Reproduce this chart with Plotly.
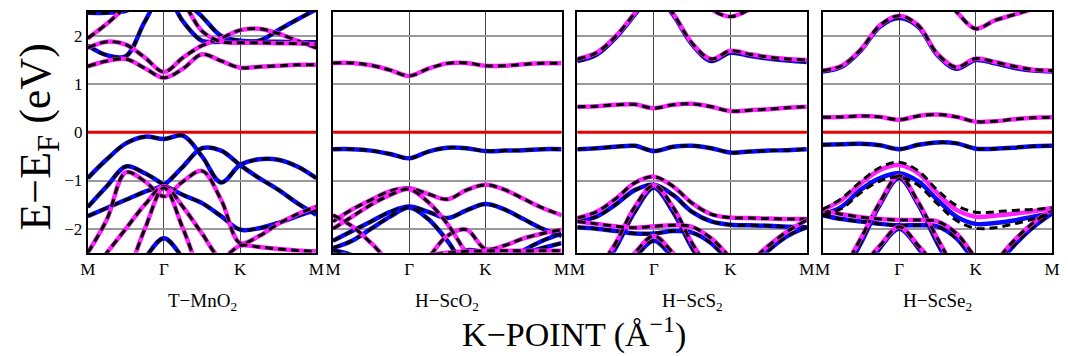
import plotly.graph_objects as go

# k-path grid (M, Γ, K, M at 0,1,2,3)
kpts = [0, 0.25, 0.5, 0.75, 1.0, 1.25, 1.5, 1.75, 2.0, 2.25, 2.5, 2.75, 3.0]
tick_vals = [0, 1, 2, 3]
tick_text = ["M", "Γ", "K", "M"]
ytick_vals = [2, 1, 0, -1, -2]
ytick_text = ["2", "1", "0", "−1", "−2"]
panel_names = ["T−MnO<sub>2</sub>", "H−ScO<sub>2</sub>", "H−ScS<sub>2</sub>", "H−ScSe<sub>2</sub>"]

# ---------- T-MnO2 ----------
mno2_up = [
    [-0.95, -0.56, -0.23, -0.09, -0.14, -0.07, -0.50, -1.04, -0.68, -0.56, -0.57, -0.71, -0.95],
    [-1.74, -1.57, -1.40, -1.23, -1.09, -0.71, -0.33, -0.38, -0.68, -0.95, -1.19, -1.47, -1.71],
    [-1.55, -1.12, -0.71, -0.85, -1.09, -1.30, -1.47, -1.74, -2.02, -1.99, -1.88, -1.74, -1.61],
    [-3.5, -3.3, -3.0, -2.6, -2.2, -2.6, -3.0, -3.3, -3.5, -3.5, -3.5, -3.5, -3.5],
    [1.80, 1.60, 1.58, 2.30, 2.90, 2.30, 1.90, 1.88, 1.88, 1.88, 1.88, 1.87, 1.87],
    [2.48, 2.48, 2.52, 2.75, 3.00, 2.75, 2.40, 2.00, 1.90, 1.90, 2.12, 2.34, 2.55],
]
mno2_dn = [
    [-2.50, -1.81, -0.83, -1.02, -1.33, -1.02, -0.80, -1.40, -2.30, -2.15, -1.90, -1.70, -1.54],
    [-3.0, -2.5, -2.0, -1.5, -1.12, -1.55, -2.1, -2.6, -2.35, -2.38, -2.42, -2.45, -2.47],
    [-4.0, -3.6, -3.0, -2.0, -1.15, -2.0, -3.0, -3.6, -4.0, -4.0, -4.0, -4.0, -4.0],
    [1.37, 1.48, 1.52, 1.33, 1.13, 1.32, 1.62, 1.48, 1.34, 1.36, 1.38, 1.40, 1.40],
    [1.75, 1.88, 1.82, 1.55, 1.25, 1.55, 1.80, 1.95, 2.12, 2.15, 2.05, 1.90, 1.75],
    [1.95, 2.25, 2.60, 2.90, 3.10, 2.70, 2.10, 1.88, 1.86, 1.86, 1.85, 1.84, 1.83],
]

# ---------- H-ScO2 ----------
sco2_up = [
    [-0.35, -0.35, -0.38, -0.45, -0.54, -0.40, -0.32, -0.33, -0.39, -0.38, -0.37, -0.35, -0.35],
    [-2.25, -2.05, -1.85, -1.65, -1.54, -1.65, -1.78, -1.62, -1.49, -1.60, -1.80, -2.00, -2.15],
    [-2.40, -2.25, -2.00, -1.75, -1.56, -1.80, -2.25, -2.80, -3.00, -2.70, -2.45, -2.25, -2.10],
    [-2.45, -2.55, -2.80, -3.10, -3.30, -3.10, -2.70, -2.45, -2.50, -2.55, -2.50, -2.40, -2.30],
]
sco2_dn = [
    [1.44, 1.44, 1.39, 1.29, 1.17, 1.32, 1.43, 1.44, 1.38, 1.38, 1.41, 1.43, 1.43],
    [-1.85, -1.60, -1.40, -1.22, -1.16, -1.28, -1.39, -1.20, -1.09, -1.19, -1.38, -1.57, -1.72],
    [-1.72, -1.95, -2.30, -2.70, -3.00, -2.60, -2.15, -2.02, -2.42, -2.35, -2.20, -2.10, -2.02],
    [-2.00, -1.75, -1.50, -1.30, -1.18, -1.45, -1.90, -2.50, -3.00, -3.20, -3.20, -3.20, -3.20],
    [-2.90, -2.90, -2.80, -2.70, -2.60, -2.55, -2.50, -2.47, -2.46, -2.46, -2.46, -2.46, -2.46],
]

# ---------- H-ScS2 ----------
scs2_up = [
    [1.48, 1.61, 1.96, 2.44, 2.90, 2.44, 1.82, 1.48, 1.65, 1.59, 1.53, 1.49, 1.46],
    [-0.35, -0.33, -0.30, -0.28, -0.39, -0.30, -0.28, -0.33, -0.42, -0.40, -0.38, -0.37, -0.35],
    [-1.85, -1.75, -1.50, -1.20, -1.09, -1.30, -1.65, -1.85, -1.92, -1.93, -1.94, -1.96, -1.97],
    [-3.5, -3.0, -2.4, -1.65, -1.15, -1.65, -2.4, -3.0, -3.5, -3.5, -3.5, -3.5, -3.5],
    [-1.97, -2.00, -2.05, -2.10, -2.10, -2.05, -2.08, -2.30, -2.70, -3.00, -3.00, -3.00, -3.00],
    [-3.5, -3.3, -3.0, -2.6, -2.25, -2.6, -3.0, -3.3, -3.5, -3.5, -3.5, -3.5, -3.5],
    [-3.5, -3.5, -3.5, -3.5, -3.5, -3.5, -3.5, -3.4, -3.2, -2.85, -2.45, -2.15, -1.97],
]
scs2_dn = [
    [1.52, 1.65, 1.99, 2.47, 2.95, 2.47, 1.85, 1.52, 1.69, 1.62, 1.56, 1.52, 1.50],
    [3.5, 3.5, 3.5, 3.5, 3.5, 3.3, 2.9, 2.55, 2.40, 2.55, 2.80, 3.10, 3.30],
    [0.53, 0.54, 0.57, 0.58, 0.50, 0.57, 0.59, 0.53, 0.44, 0.46, 0.48, 0.51, 0.53],
    [-1.78, -1.65, -1.38, -1.05, -0.92, -1.12, -1.47, -1.70, -1.77, -1.78, -1.79, -1.80, -1.80],
    [-3.5, -2.9, -2.3, -1.55, -1.10, -1.55, -2.3, -2.9, -3.5, -3.5, -3.5, -3.5, -3.5],
    [-1.85, -1.90, -1.95, -1.98, -1.95, -1.93, -1.96, -2.20, -2.60, -3.00, -3.00, -3.00, -3.00],
    [-3.5, -3.5, -3.5, -3.5, -3.5, -3.5, -3.5, -3.3, -3.0, -2.70, -2.35, -2.05, -1.82],
    [-3.5, -3.2, -2.9, -2.5, -2.15, -2.5, -2.9, -3.2, -3.5, -3.5, -3.5, -3.5, -3.5],
]

# ---------- H-ScSe2 ----------
scse2_up = [
    [1.26, 1.36, 1.70, 2.19, 2.37, 2.19, 1.60, 1.32, 1.50, 1.43, 1.34, 1.28, 1.26],
    [-0.26, -0.25, -0.24, -0.27, -0.35, -0.26, -0.21, -0.23, -0.34, -0.34, -0.32, -0.29, -0.28],
    [-3.5, -3.0, -2.3, -1.5, -0.95, -1.5, -2.3, -3.0, -3.5, -3.5, -3.5, -3.5, -3.5],
    [-1.72, -1.80, -1.85, -1.90, -1.93, -1.93, -1.95, -2.20, -2.70, -3.10, -3.10, -3.10, -3.10],
    [-3.5, -3.3, -3.0, -2.4, -2.0, -2.4, -3.0, -3.3, -3.5, -3.5, -3.5, -3.5, -3.5],
    [-3.5, -3.5, -3.5, -3.5, -3.5, -3.5, -3.5, -3.4, -3.2, -2.80, -2.35, -1.97, -1.68],
]
scse2_up_solid = [
    [-1.71, -1.54, -1.19, -0.95, -0.85, -1.02, -1.40, -1.75, -1.90, -1.88, -1.83, -1.75, -1.68],
]
scse2_dn = [
    [1.28, 1.38, 1.72, 2.22, 2.42, 2.22, 1.63, 1.35, 1.53, 1.46, 1.37, 1.30, 1.28],
    [3.5, 3.5, 3.5, 3.3, 3.1, 3.0, 2.9, 2.50, 2.15, 2.32, 2.44, 2.56, 2.68],
    [0.31, 0.32, 0.34, 0.32, 0.26, 0.34, 0.37, 0.32, 0.22, 0.23, 0.27, 0.30, 0.31],
    [-3.5, -2.9, -2.2, -1.45, -0.90, -1.45, -2.2, -2.9, -3.5, -3.5, -3.5, -3.5, -3.5],
    [-1.62, -1.70, -1.76, -1.80, -1.82, -1.82, -1.85, -2.10, -2.60, -3.00, -3.00, -3.00, -3.00],
    [-3.5, -3.2, -2.8, -2.35, -1.96, -2.35, -2.8, -3.2, -3.5, -3.5, -3.5, -3.5, -3.5],
    [-3.5, -3.5, -3.5, -3.5, -3.5, -3.5, -3.5, -3.4, -3.1, -2.70, -2.25, -1.88, -1.60],
]
scse2_dn_solid = [
    [-1.61, -1.40, -1.06, -0.78, -0.68, -0.85, -1.26, -1.61, -1.75, -1.73, -1.69, -1.64, -1.57],
]
scse2_dash_only = [
    [-1.60, -1.37, -1.02, -0.73, -0.62, -0.80, -1.20, -1.52, -1.66, -1.65, -1.62, -1.60, -1.57],
    [-1.72, -1.58, -1.25, -1.01, -0.93, -1.10, -1.48, -1.83, -1.99, -1.98, -1.90, -1.80, -1.68],
]

panels = [
    (mno2_up, [], mno2_dn, [], []),
    (sco2_up, [], sco2_dn, [], []),
    (scs2_up, [], scs2_dn, [], []),
    (scse2_up, scse2_up_solid, scse2_dn, scse2_dn_solid, scse2_dash_only),
]

W, H = 1068, 356
x_domains = [(81, 313), (330, 562), (578, 811), (827, 1060)]
y_top, y_bot = 11.8, 252.8


def px(x):
    return x / W


def py(y):
    return 1 - y / H


BLUE = "#0a0aff"
MAG = "#ff20ff"
SERIF = "Liberation Serif, Times New Roman, serif"

fig = go.Figure()


def add_band(xa, ya, vals, color, dashed=True, solid=True):
    if solid:
        fig.add_trace(go.Scatter(x=kpts, y=vals, mode="lines", xaxis=xa, yaxis=ya,
                                 line=dict(color=color, width=4.5, shape="spline", smoothing=1.0),
                                 showlegend=False, hoverinfo="skip"))
    if dashed:
        fig.add_trace(go.Scatter(x=kpts, y=vals, mode="lines", xaxis=xa, yaxis=ya,
                                 line=dict(color="black", width=3, shape="spline", smoothing=1.0,
                                           dash="8px,5px"),
                                 showlegend=False, hoverinfo="skip"))


for i, (up, up_s, dn, dn_s, dash_only) in enumerate(panels):
    n = "" if i == 0 else str(i + 1)
    xa, ya = "x" + n, "y" + n
    fig.add_trace(go.Scatter(x=[kpts[0], kpts[-1]], y=[0, 0], mode="lines", xaxis=xa, yaxis=ya,
                             line=dict(color="#e80000", width=3), showlegend=False, hoverinfo="skip"))
    for b in up:
        add_band(xa, ya, b, BLUE)
    for b in up_s:
        add_band(xa, ya, b, BLUE, dashed=False)
    for b in dn:
        add_band(xa, ya, b, MAG)
    for b in dn_s:
        add_band(xa, ya, b, MAG, dashed=False)
    for b in dash_only:
        add_band(xa, ya, b, "black", solid=False)

    x0, x1 = x_domains[i]
    fig.layout["xaxis" + n] = dict(
        domain=[px(x0), px(x1)], range=[0, 3], anchor=ya,
        tickvals=tick_vals, ticktext=tick_text, ticks="",
        tickfont=dict(family=SERIF, size=17, color="black"),
        showgrid=True, gridcolor="#444", gridwidth=1, zeroline=False,
        showline=True, mirror=True, linecolor="black", linewidth=2,
    )
    fig.layout["yaxis" + n] = dict(
        domain=[py(y_bot), py(y_top)], range=[-2.5, 2.5], anchor=xa,
        tickvals=ytick_vals, ticktext=ytick_text, ticks="",
        showticklabels=(i == 0),
        tickfont=dict(family=SERIF, size=17, color="black"),
        showgrid=True, gridcolor="#9a9a9a", gridwidth=1.5, zeroline=False,
        showline=True, mirror=True, linecolor="black", linewidth=2,
    )
    fig.add_annotation(x=px((x0 + x1) / 2), y=py(302), xref="paper", yref="paper",
                       xanchor="center", yanchor="middle",
                       text=panel_names[i], showarrow=False,
                       font=dict(family=SERIF, size=19, color="black"))

fig.add_annotation(x=px(30), y=py(137), xref="paper", yref="paper",
                   xanchor="center", yanchor="middle",
                   text="E−E<sub>F</sub> (eV)", textangle=-90, showarrow=False,
                   font=dict(family=SERIF, size=44, color="black"))
fig.add_annotation(x=px(575), y=py(332), xref="paper", yref="paper",
                   xanchor="center", yanchor="middle",
                   text="K−POINT (Å<sup>−1</sup>)", showarrow=False,
                   font=dict(family=SERIF, size=34, color="black"))

fig.update_layout(width=W, height=H, margin=dict(l=0, r=0, t=0, b=0),
                  paper_bgcolor="white", plot_bgcolor="white")

# the page's default 8px body margin would shift the figure; remove it
fig.write_html("out.html", config={"displayModeBar": False},
               post_script="document.body.style.margin='0';document.body.style.overflow='hidden';")
